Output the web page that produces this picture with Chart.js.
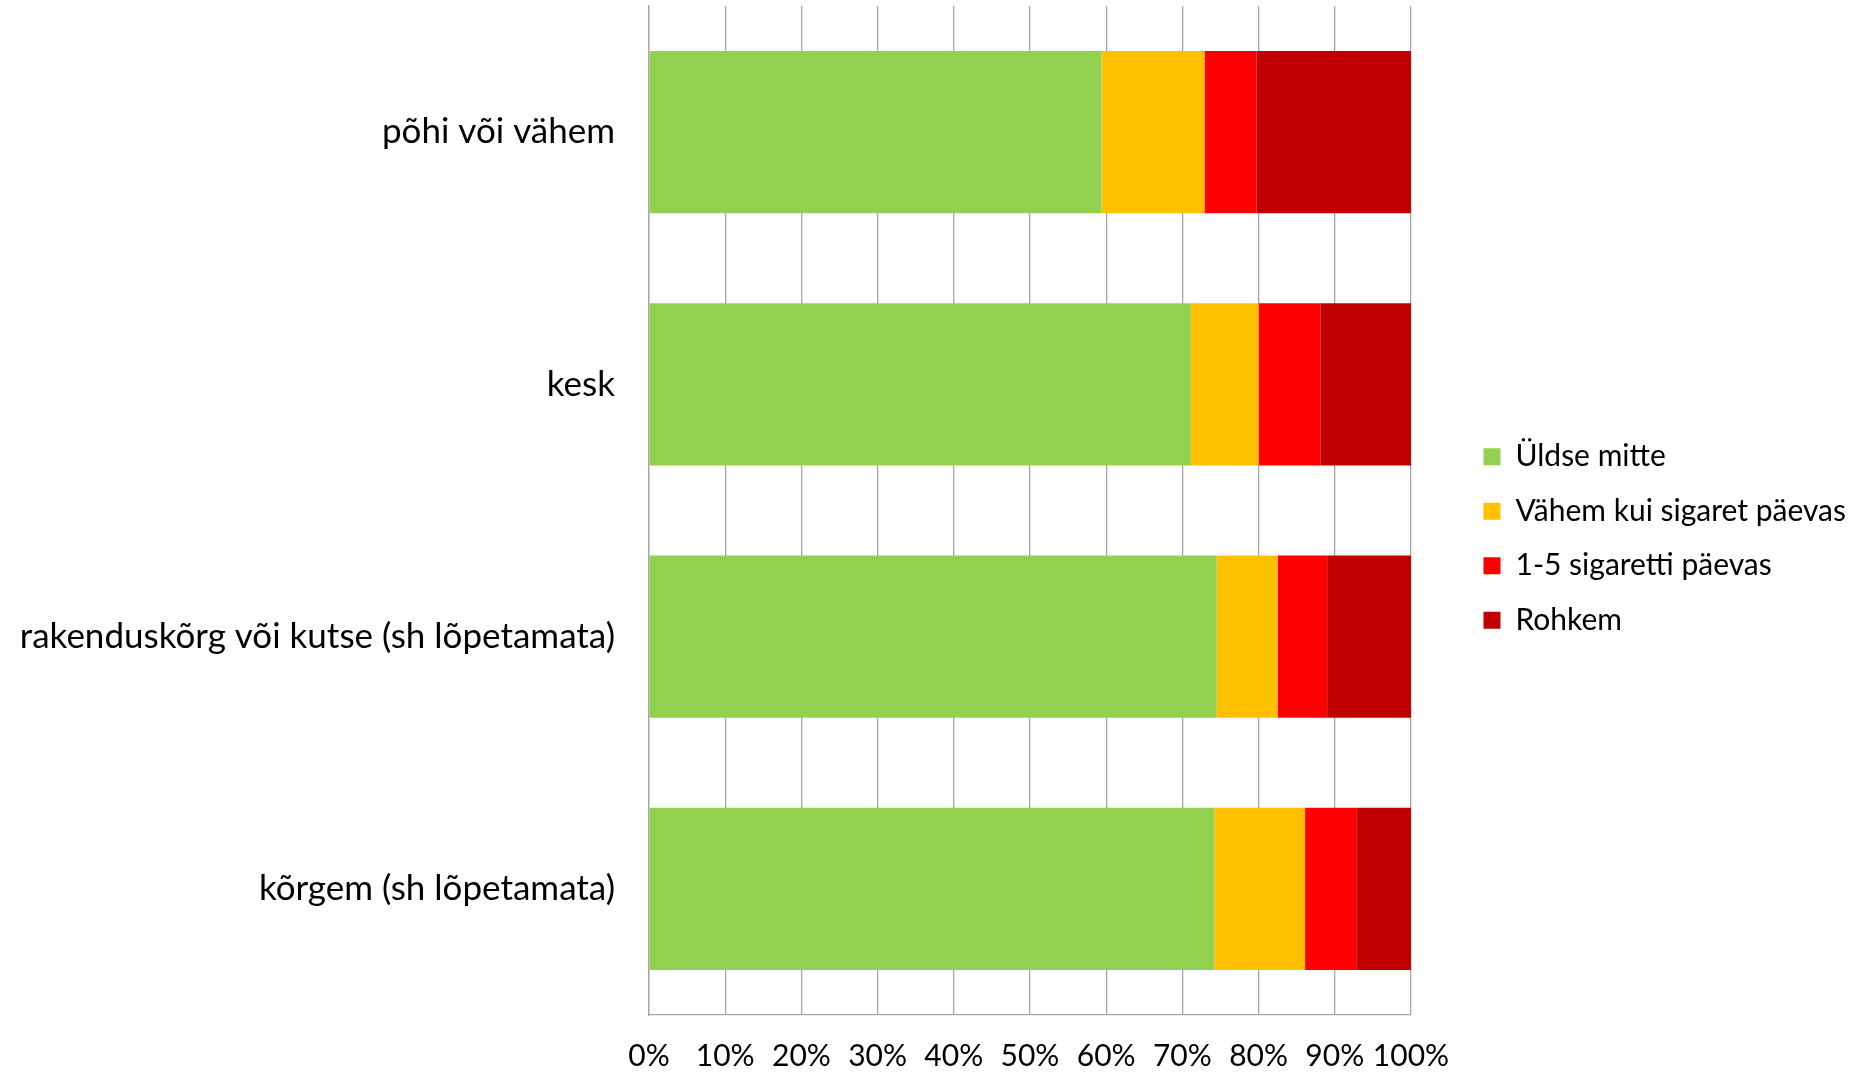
<!DOCTYPE html>
<html>
<head>
<meta charset="utf-8">
<script src="https://cdn.jsdelivr.net/npm/chart.js@4"></script>
<style>
  html, body { margin: 0; padding: 0; background: #fff; }
  #wrap { width: 1858px; height: 1072px; }
</style>
</head>
<body>
<div id="wrap"><canvas id="chart"></canvas></div>
<script>
// categories (top to bottom)
const categories = [
    'põhi või vähem',
    'kesk',
    'rakenduskõrg või kutse (sh lõpetamata)',
    'kõrgem (sh lõpetamata)'
];

// shares in %
const uldseMitte = [59.4, 71.1, 74.5, 74.2];
const vahemKuiSigaret = [13.5, 8.9, 8.0, 11.9];
const sigaretti15 = [6.8, 8.1, 6.5, 6.8];
const rohkem = [20.3, 11.9, 11.0, 7.1];

const xTicks = [0, 10, 20, 30, 40, 50, 60, 70, 80, 90, 100];

const FONT = 'Lato, "Open Sans", sans-serif';

// drop the automatic half-label padding so the plot fills the canvas like the original
function noPad(scale) {
    scale.paddingTop = 0;
    scale.paddingBottom = 0;
    scale.paddingLeft = 0;
    scale.paddingRight = 0;
}

document.addEventListener('DOMContentLoaded', () => {
    const ctx = document.getElementById('chart').getContext('2d');
    new Chart(ctx, {
        type: 'bar',
        data: {
            labels: categories,
            datasets: [
                { label: 'Üldse mitte', data: uldseMitte, backgroundColor: '#92d050' },
                { label: 'Vähem kui sigaret päevas', data: vahemKuiSigaret, backgroundColor: '#ffc000' },
                { label: '1-5 sigaretti päevas', data: sigaretti15, backgroundColor: '#ff0000' },
                { label: 'Rohkem', data: rohkem, backgroundColor: '#c00000' }
            ]
        },
        options: {
            indexAxis: 'y',
            responsive: true,
            maintainAspectRatio: false,
            animation: false,
            datasets: {
                bar: { barPercentage: 1, categoryPercentage: 0.643, borderWidth: 0 }
            },
            layout: { padding: { top: 6, left: 10, right: 2, bottom: 1 } },
            scales: {
                x: {
                    stacked: true,
                    min: 0,
                    max: 100,
                    afterBuildTicks: (scale) => { scale.ticks = xTicks.map(v => ({ value: v })); },
                    afterFit: (scale) => { noPad(scale); scale.height = 56; },
                    grid: { color: '#a6a6a6', lineWidth: 1.3, drawTicks: false },
                    border: { color: '#a6a6a6', width: 1.3 },
                    ticks: {
                        color: '#000',
                        font: { family: FONT, size: 30, lineHeight: 1 },
                        padding: 26,
                        autoSkip: false,
                        maxRotation: 0,
                        callback: (v) => v + '%'
                    }
                },
                y: {
                    stacked: true,
                    grid: { display: false },
                    border: { color: '#a6a6a6', width: 1.3 },
                    afterFit: (scale) => { noPad(scale); scale.width = 639; },
                    ticks: {
                        color: '#000',
                        font: { family: FONT, size: 35 },
                        padding: 26
                    }
                },
                // empty spacer between plot and legend
                gap: {
                    type: 'linear',
                    position: 'right',
                    grid: { display: false },
                    border: { display: false },
                    ticks: { display: false },
                    afterFit: (scale) => { noPad(scale); scale.width = 48; }
                }
            },
            plugins: {
                legend: {
                    position: 'right',
                    maxWidth: 500,
                    labels: {
                        color: '#000',
                        font: { family: FONT, size: 30 },
                        boxWidth: 17,
                        boxHeight: 17,
                        padding: 24.5
                    }
                },
                tooltip: { enabled: false }
            }
        }
    });
});
</script>
</body>
</html>
